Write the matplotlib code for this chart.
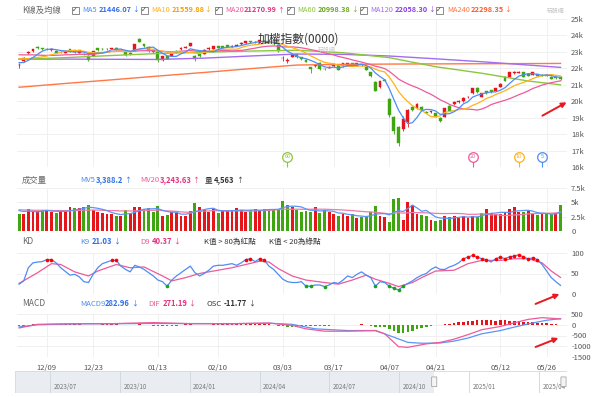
import matplotlib
matplotlib.use("Agg")
import matplotlib.pyplot as plt
from matplotlib.patches import Rectangle, FancyArrowPatch, FancyBboxPatch
import numpy as np
import pandas as pd

plt.rcParams['font.family'] = ['Noto Sans CJK TC', 'DejaVu Sans']

W, H = 600, 397

# ---------------- data ----------------
tick_idx = [6, 16, 30, 43, 57, 68, 80, 90, 104, 114]
tick_labels = ["12/09", "12/23", "01/13", "02/10", "03/03", "03/17", "04/07", "04/21", "05/12", "05/26"]

# closes before the visible window (for the moving averages)
pre_close = [22850, 22950, 23100, 23500, 23450, 23300, 23100, 22900, 22750, 22650,
             22900, 22750, 22800, 22900, 22900, 22600, 22350, 22300, 22250]

opens = [22180, 22450, 22950, 23050, 23270, 23210, 23200, 23120, 23070, 23010,
         22950, 23150, 23100, 22950, 22880, 22770, 22770, 23220, 23170, 23190,
         23180, 23250, 23160, 22970, 22950, 23110, 23760, 23460, 23320, 23100,
         22970, 22500, 22720, 22750, 23080, 23150, 23250, 23360, 22750, 22850,
         22870, 23150, 23200, 23350, 23330, 23400, 23300, 23380, 23450, 23540,
         23650, 23580, 23600, 23680, 23600, 23500, 23400, 22600, 22450, 22710,
         22870, 22670, 22510, 22060, 22140, 22340, 21950, 22050, 22150, 22200,
         22140, 22150, 22300, 22150, 22200, 22060, 21780, 21190, 20850, 21300,
         20120, 19020, 18420, 18290, 18760, 19630, 19570, 19670, 19330, 19350,
         19270, 19000, 19060, 19730, 19810, 19950, 20010, 20230, 20480, 20830,
         20280, 20620, 20680, 20620, 20880, 21490, 21490, 21700, 21720, 21760,
         21650, 21600, 21650, 21620, 21600, 21480, 21480, 21480]
closes = [22220, 22650, 23020, 23150, 23230, 23160, 23160, 23170, 22950, 22990,
          22990, 23010, 23000, 23100, 22850, 22510, 23050, 23100, 23150, 23160,
          23220, 23150, 23150, 22810, 22850, 23460, 23620, 23340, 23050, 22980,
          22480, 22720, 22580, 22870, 23000, 23250, 23300, 23520, 22550, 22750,
          23120, 23250, 23330, 23250, 23250, 23300, 23380, 23420, 23560, 23650,
          23600, 23620, 23700, 23640, 23560, 23450, 23050, 22650, 22480, 22830,
          22670, 22550, 22400, 21980, 22220, 21940, 21930, 22100, 22200, 21900,
          22300, 22300, 22150, 22300, 22220, 21900, 21530, 20640, 21210, 21260,
          19160, 18210, 17450, 18900, 19450, 19470, 19830, 19470, 19300, 19380,
          19060, 18800, 19570, 19410, 19970, 20020, 20220, 20240, 20790, 20540,
          20480, 20480, 20540, 20790, 21070, 21230, 21760, 21780, 21800, 21490,
          21550, 21760, 21550, 21560, 21550, 21370, 21400, 21350]
highs = [22320, 22700, 23080, 23200, 23330, 23260, 23250, 23220, 23100, 23050,
         23040, 23180, 23130, 23140, 22950, 22800, 23080, 23250, 23220, 23230,
         23260, 23280, 23200, 23000, 22990, 23480, 23850, 23500, 23350, 23130,
         22990, 22750, 22760, 22900, 23110, 23280, 23340, 23560, 22800, 22880,
         23150, 23280, 23360, 23380, 23360, 23430, 23410, 23460, 23590, 23690,
         23680, 23660, 23740, 23720, 23640, 23540, 23420, 22750, 22600, 22860,
         22900, 22700, 22540, 22100, 22260, 22360, 22000, 22140, 22240, 22230,
         22330, 22330, 22330, 22330, 22260, 22090, 21800, 21200, 21240, 21340,
         20200, 19100, 18500, 19100, 19520, 19680, 19870, 19700, 19380, 19420,
         19300, 19030, 19600, 19760, 20000, 20060, 20250, 20290, 20820, 20860,
         20510, 20650, 20710, 20820, 21100, 21520, 21790, 21820, 21840, 21790,
         21680, 21790, 21680, 21650, 21640, 21510, 21510, 21510]
lows = [22050, 22400, 22900, 23000, 23180, 23120, 23120, 23080, 22920, 22950,
        22920, 22980, 22960, 22920, 22800, 22450, 22740, 23060, 23100, 23120,
        23150, 23120, 23100, 22780, 22800, 23090, 23580, 23300, 23020, 22950,
        22400, 22460, 22540, 22720, 22960, 23120, 23220, 23340, 22450, 22700,
        22850, 23120, 23180, 23220, 23220, 23270, 23270, 23350, 23420, 23510,
        23570, 23550, 23570, 23600, 23520, 23410, 23010, 22450, 22350, 22680,
        22640, 22520, 22370, 21740, 22100, 21900, 21880, 22010, 22110, 21870,
        22110, 22120, 22120, 22120, 22160, 21870, 21500, 20600, 20800, 21200,
        19050, 18000, 17280, 18210, 18420, 19420, 19540, 19440, 19260, 19310,
        19030, 18740, 19040, 19380, 19780, 19920, 19980, 20190, 20450, 20510,
        20250, 20450, 20510, 20600, 20850, 21200, 21460, 21670, 21690, 21460,
        21520, 21570, 21520, 21530, 21520, 21340, 21370, 21320]

# long moving averages (index, value)
ma60_idx = [0, 10, 20, 30, 40, 50, 60, 70, 80, 90, 100, 110, 117]
ma60_val = [22550, 22650, 22780, 22900, 22980, 23050, 23100, 22950, 22650, 22100, 21700, 21230, 20998]
ma120_idx = [0, 10, 20, 30, 40, 50, 60, 70, 80, 90, 100, 110, 117]
ma120_val = [22560, 22560, 22550, 22540, 22620, 22750, 22870, 22850, 22750, 22580, 22400, 22200, 22058]
ma240_idx = [0, 10, 20, 30, 40, 50, 60, 70, 80, 90, 100, 110, 117]
ma240_val = [20850, 21080, 21300, 21530, 21750, 21980, 22200, 22240, 22260, 22270, 22280, 22290, 22298]

pre_volume = [3600, 3900, 4200, 3800, 3500, 3700, 3900, 3600, 3400, 3800,
              4100, 3700, 3500, 3600, 3900, 3800, 3400, 3700, 4000]
volume = [2900, 3000, 3800, 3400, 3500, 3600, 3600, 3300, 3200, 3500,
          3500, 4100, 4000, 4000, 4100, 4600, 3700, 3400, 3100, 3000,
          2900, 2700, 2600, 3700, 3200, 4100, 4200, 3800, 4000, 3300,
          4300, 2600, 2800, 3400, 3200, 2700, 2600, 3500, 4900, 4100,
          3600, 3400, 3800, 3200, 3500, 3600, 3600, 4000, 3600, 3300,
          3700, 3800, 3700, 3800, 3700, 3800, 3900, 5300, 4500, 4200,
          3600, 3400, 3500, 3400, 4100, 3100, 3600, 3300, 3000, 2700,
          2900, 2600, 2900, 2200, 2400, 2500, 3300, 4300, 2600, 2400,
          1500, 5500, 5700, 1900, 5000, 4500, 3000, 2800, 2700, 2000,
          1800, 2000, 2700, 2400, 2600, 2200, 2600, 2300, 2700, 2500,
          3200, 3900, 3100, 3000, 3000, 3300, 3800, 4100, 3400, 3300,
          3500, 3000, 2800, 3000, 3000, 2900, 3200, 4563]

k_val = [24, 32, 64, 76, 78, 79, 84, 84, 76, 64,
         55, 46, 48, 42, 30, 28, 48, 64, 74, 78,
         82, 82, 68, 60, 54, 70, 66, 60, 52, 44,
         34, 30, 19, 34, 44, 52, 60, 68, 52, 44,
         50, 58, 68, 70, 70, 72, 74, 70, 76, 84,
         86, 79, 86, 82, 68, 60, 48, 36, 30, 28,
         28, 30, 19, 19, 22, 22, 18, 22, 28, 26,
         34, 44, 40, 48, 54, 46, 40, 19, 30, 28,
         19, 14, 10, 19, 26, 32, 40, 46, 50, 60,
         66, 60, 60, 66, 70, 76, 86, 90, 94, 90,
         86, 84, 78, 86, 90, 86, 91, 92, 96, 90,
         86, 88, 84, 72, 56, 40, 30, 21.03]
d_idx = [0, 4, 7, 9, 12, 15, 17, 21, 24, 27, 31, 33, 36, 39, 42, 46, 49, 52, 54, 56,
         59, 62, 66, 69, 72, 75, 77, 80, 82, 85, 87, 90, 94, 97, 100, 104, 107, 110, 113, 115, 117]
d_val = [26, 52, 74, 72, 54, 44, 56, 72, 64, 66, 44, 32, 40, 50, 56, 64, 72, 80, 78, 62,
         44, 34, 28, 24, 34, 46, 36, 26, 18, 28, 40, 56, 58, 74, 82, 82, 86, 86, 76, 56, 40.37]

dif_idx = [0, 4, 12, 20, 29, 37, 46, 54, 59, 62, 66, 71, 77, 79, 82, 84, 86, 88, 91, 94,
           97, 100, 104, 107, 110, 113, 117]
dif_val = [-150, 20, 50, 50, 100, 50, 50, 80, -30, -190, -300, -300, -270, -420, -1020, -1050,
           -970, -890, -820, -670, -460, -230, -80, 90, 250, 330, 271.19]
macd_idx = [0, 4, 12, 29, 46, 54, 59, 64, 71, 77, 81, 84, 87, 91, 94, 97, 100, 104, 107, 110, 114, 117]
macd_val = [-100, 0, 40, 60, 50, 70, 20, -190, -270, -270, -580, -820, -860, -850, -760, -620,
            -420, -270, -110, 40, 210, 282.96]
osc = [-60, -40, -10, 20, 30, 40, 45, 45, 40, 35,
       30, 25, 20, 15, -10, -30, -20, 10, 20, 30,
       35, 30, 10, -10, -20, 10, 20, 10, -20, -40,
       -60, -70, -80, -60, -40, -10, 20, 40, 10, -20,
       -10, 10, 20, 30, 30, 35, 40, 35, 40, 45,
       50, 45, 45, 40, 20, -10, -40, -70, -90, -100,
       -90, -80, -80, -70, -60, -50, -50, -40, -30, -30,
       -20, -10, -10, 10, 20, -10, -40, -90, -100, -120,
       -180, -300, -380, -400, -360, -290, -220, -150, -100, -60,
       -30, -10, 20, 50, 80, 110, 140, 170, 190, 200,
       210, 210, 200, 190, 200, 200, 180, 170, 160, 150,
       130, 120, 100, 80, 60, 40, 15, -11.77]

nav_labels = ["2023/07", "2023/10", "2024/01", "2024/04", "2024/07", "2024/10", "2025/01", "2025/04"]
nav_months = [0, 3, 6, 9, 12, 15, 18, 21]

# ---------------- derived series ----------------
n = len(closes)
x = np.arange(n)
allc = pd.Series(pre_close + closes)
ma5 = allc.rolling(5).mean().to_numpy()[len(pre_close):]
ma10 = allc.rolling(10).mean().to_numpy()[len(pre_close):]
ma20 = allc.rolling(20).mean().to_numpy()[len(pre_close):]
allv = pd.Series(pre_volume + volume)
mv5 = allv.rolling(5).mean().to_numpy()[len(pre_volume):]
mv20 = allv.rolling(20).mean().to_numpy()[len(pre_volume):]
prev_close = np.array([pre_close[-1]] + closes[:-1])

RED = "#e4161b"
GREEN = "#3fa511"
C5, C10, C20 = "#4d8df5", "#ffb21a", "#ee5a9a"
C60, C120, C240 = "#8cc63f", "#a46cf0", "#ff7846"
GRID = "#eeeeee"
XL = (-0.45, 118.4)

fig = plt.figure(figsize=(6, 3.97), dpi=100)


def box(x0, y0, x1, y1):
    return [x0 / W, 1 - y1 / H, (x1 - x0) / W, (y1 - y0) / H]


def ftext(px, py, s, **kw):
    kw.setdefault("va", "center")
    fig.text(px / W, 1 - py / H, s, **kw)


def style(ax, yticks, ylabels):
    for s in ax.spines.values():
        s.set_visible(False)
    ax.set_xlim(*XL)
    ax.set_xticks(tick_idx)
    ax.set_xticklabels([])
    ax.yaxis.tick_right()
    ax.set_yticks(yticks)
    ax.set_yticklabels(ylabels)
    ax.tick_params(length=0, labelsize=5.5, labelcolor="#555555", pad=3)
    ax.grid(True, color=GRID, lw=0.6)
    ax.set_axisbelow(True)


# ---------------- price panel ----------------
ax = fig.add_axes(box(17, 19, 567, 167))
style(ax, range(16000, 25001, 1000), [f"{v}k" for v in range(16, 26)])
ax.set_ylim(16000, 25000)
for i in range(n):
    up = closes[i] >= opens[i]
    c = RED if up else GREEN
    ax.vlines(i, lows[i], highs[i], color=c, lw=0.6, zorder=2)
    h = max(abs(closes[i] - opens[i]), 18)
    ax.bar(i, h, bottom=min(opens[i], closes[i]), width=0.62, color=c,
           edgecolor=c, lw=0.3, zorder=3)
ax.plot(ma240_idx, ma240_val, color=C240, lw=1.0, zorder=4)
ax.plot(ma120_idx, ma120_val, color=C120, lw=1.0, zorder=4)
ax.plot(ma60_idx, ma60_val, color=C60, lw=1.0, zorder=4)
ax.plot(x, ma20, color=C20, lw=0.9, zorder=4)
ax.plot(x, ma10, color=C10, lw=0.9, zorder=4)
ax.plot(x, ma5, color=C5, lw=0.9, zorder=4)

# MA start markers
for win, col in [(60, C60), (20, C20), (10, C10), (5, C5)]:
    i = n - win
    ax.vlines(i, 16000, 16450, color=col, lw=0.8, zorder=5, clip_on=False)
    ax.scatter([i], [16620], s=48, facecolor="white", edgecolor=col, lw=0.9, zorder=6)
    ax.text(i, 16620, str(win), color=col, fontsize=4, ha="center", va="center", zorder=7)

ftext(298, 39, "加權指數(0000)", fontsize=8.5, color="#333333", ha="center")
ftext(327, 50, "玩股網", fontsize=4.2, color="#c8c8c8", ha="center")
ftext(556, 11, "玩股網", fontsize=4.2, color="#c0c0c0", ha="center")

# header legend: checkbox x, name x, value x, arrow x
ftext(22, 10, "K線及均線", fontsize=6, color="#666666")
legend_items = [
    (75, 82, 99, 132, "MA5", "21446.07", "↓", C5, "#2f6fe8"),
    (144, 151, 172, 204, "MA10", "21559.88", "↓", C10, "#f5a000"),
    (218, 225, 244, 277, "MA20", "21270.99", "↑", C20, "#e6337f"),
    (290, 297, 318, 351, "MA60", "20998.38", "↓", C60, "#6aa81e"),
    (363, 370, 395, 428, "MA120", "22058.30", "↓", C120, "#8a3ff0"),
    (439, 447, 471, 504, "MA240", "22298.35", "↓", C240, "#ff5a28"),
]
for cx, nx, vx, ax_, name, val, arr, c1, c2 in legend_items:
    fig.patches.append(Rectangle(((cx - 3.5) / W, 1 - 13.5 / H), 7 / W, 7 / H,
                                 transform=fig.transFigure, fill=False,
                                 edgecolor="#777777", lw=0.6))
    ftext(cx, 10, "✓", fontsize=5, color="#444444", ha="center",
          family="DejaVu Sans")
    ftext(nx, 10, name, fontsize=5.3, color=c1)
    ftext(vx, 10, val, fontsize=5.3, color=c2, fontweight="bold")
    ftext(ax_, 10, arr, fontsize=4.8, color=c2)

# ---------------- volume panel ----------------
av = fig.add_axes(box(17, 188, 567, 231))
style(av, [0, 2500, 5000, 7500], ["0", "2.5k", "5k", "7.5k"])
av.set_ylim(0, 7500)
vcol = [RED if closes[i] >= prev_close[i] else GREEN for i in range(n)]
av.bar(x, volume, width=0.62, color=vcol, zorder=3)
av.plot(x, mv20, color="#f07aa8", lw=0.9, zorder=4)
av.plot(x, mv5, color="#5b95f5", lw=0.9, zorder=4)
av.axhline(0, color="#7cc36a", lw=0.8, ls=(0, (3, 2)), zorder=5)

ftext(22, 180, "成交量", fontsize=6, color="#666666")
ftext(80, 180, "MV5", fontsize=5.5, color=C5)
ftext(96, 180, "3,388.2", fontsize=5.5, color="#2f6fe8", fontweight="bold")
ftext(124, 180, "↑", fontsize=5, color="#2f6fe8")
ftext(140, 180, "MV20", fontsize=5.5, color=C20)
ftext(160, 180, "3,243.63", fontsize=5.5, color="#e6337f", fontweight="bold")
ftext(192, 180, "↑", fontsize=5, color="#e6337f")
ftext(205, 180, "量", fontsize=5.5, color="#333333")
ftext(214, 180, "4,563", fontsize=5.5, color="#333333", fontweight="bold")
ftext(236, 180, "↑", fontsize=5, color="#333333")

# ---------------- KD panel ----------------
ak = fig.add_axes(box(17, 253, 567, 294))
style(ak, [0, 50, 100], ["0", "50", "100"])
ak.set_ylim(0, 100)
ak.plot(d_idx, d_val, color="#ee5a9a", lw=0.9, zorder=3)
ak.plot(x, k_val, color="#4d8df5", lw=0.9, zorder=4)
kk = np.array(k_val)
hi = kk > 80
lo = kk < 20
ak.scatter(x[hi], kk[hi], s=7, color="#ff0000", zorder=5, lw=0)
ak.scatter(x[lo], kk[lo], s=7, color="#19a319", zorder=5, lw=0)

ftext(22, 242, "KD", fontsize=6, color="#666666")
ftext(80, 242, "K9", fontsize=5.5, color=C5)
ftext(92, 242, "21.03", fontsize=5.5, color="#2f6fe8", fontweight="bold")
ftext(113, 242, "↓", fontsize=5, color="#2f6fe8")
ftext(140, 242, "D9", fontsize=5.5, color=C20)
ftext(152, 242, "40.37", fontsize=5.5, color="#e6337f", fontweight="bold")
ftext(173, 242, "↓", fontsize=5, color="#e6337f")
ftext(204, 242, "K值 > 80為紅點", fontsize=5.5, color="#333333")
ftext(269, 242, "K值 < 20為綠點", fontsize=5.5, color="#333333")

# ---------------- MACD panel ----------------
am = fig.add_axes(box(17, 314, 567, 357))
style(am, [-1500, -1000, -500, 0, 500], ["-1500", "-1000", "-500", "0", "500"])
am.set_ylim(-1500, 500)
oc = [RED if v >= 0 else GREEN for v in osc]
am.bar(x, osc, width=0.55, color=oc, zorder=3)
am.plot(macd_idx, macd_val, color="#5b95f5", lw=0.9, zorder=4)
am.plot(dif_idx, dif_val, color="#ee5a9a", lw=0.9, zorder=4)
am.set_xticklabels(tick_labels)
am.tick_params(axis="x", labelsize=5.5, pad=5)

ftext(22, 304, "MACD", fontsize=6, color="#666666")
ftext(80, 304, "MACD9", fontsize=5.5, color=C5)
ftext(105, 304, "282.96", fontsize=5.5, color="#2f6fe8", fontweight="bold")
ftext(131, 304, "↓", fontsize=5, color="#2f6fe8")
ftext(148, 304, "DIF", fontsize=5.5, color=C20)
ftext(163, 304, "271.19", fontsize=5.5, color="#e6337f", fontweight="bold")
ftext(188, 304, "↓", fontsize=5, color="#e6337f")
ftext(207, 304, "OSC", fontsize=5.5, color="#333333")
ftext(224, 304, "-11.77", fontsize=5.5, color="#333333", fontweight="bold")
ftext(248, 304, "↓", fontsize=5, color="#333333")

# ---------------- navigator ----------------
an = fig.add_axes(box(15, 371, 567, 393))
an.set_xlim(-1.5, 22.2)
an.set_ylim(0, 1)
an.axis("off")
an.add_patch(Rectangle((-1.5, 0), 18.0, 1, facecolor="#e9edf2", edgecolor="none"))
an.add_patch(Rectangle((-1.5, 0), 23.7, 1, fill=False, edgecolor="#d8d8d8", lw=0.6))
for m, lab in zip(nav_months, nav_labels):
    an.vlines(m, 0, 1, color="#cfd4da", lw=0.6)
    an.text(m + 0.15, 0.25, lab, fontsize=4.5, color="#777777", va="center")
for m in [16.5, 22.05]:
    an.add_patch(FancyBboxPatch((m - 0.1, 0.3), 0.2, 0.42,
                                boxstyle="round,pad=0.01", facecolor="#f5f5f5",
                                edgecolor="#999999", lw=0.5, zorder=5))

# ---------------- red arrows ----------------
for (x0, y0, x1, y1) in [(540, 117, 569, 101), (533, 305, 562, 293), (533, 348, 561, 337)]:
    fig.add_artist(FancyArrowPatch((x0 / W, 1 - y0 / H), (x1 / W, 1 - y1 / H),
                                   transform=fig.transFigure, arrowstyle="-|>",
                                   mutation_scale=7, color="#e8191f", lw=1.4))

fig.savefig("out.png", dpi=100)
